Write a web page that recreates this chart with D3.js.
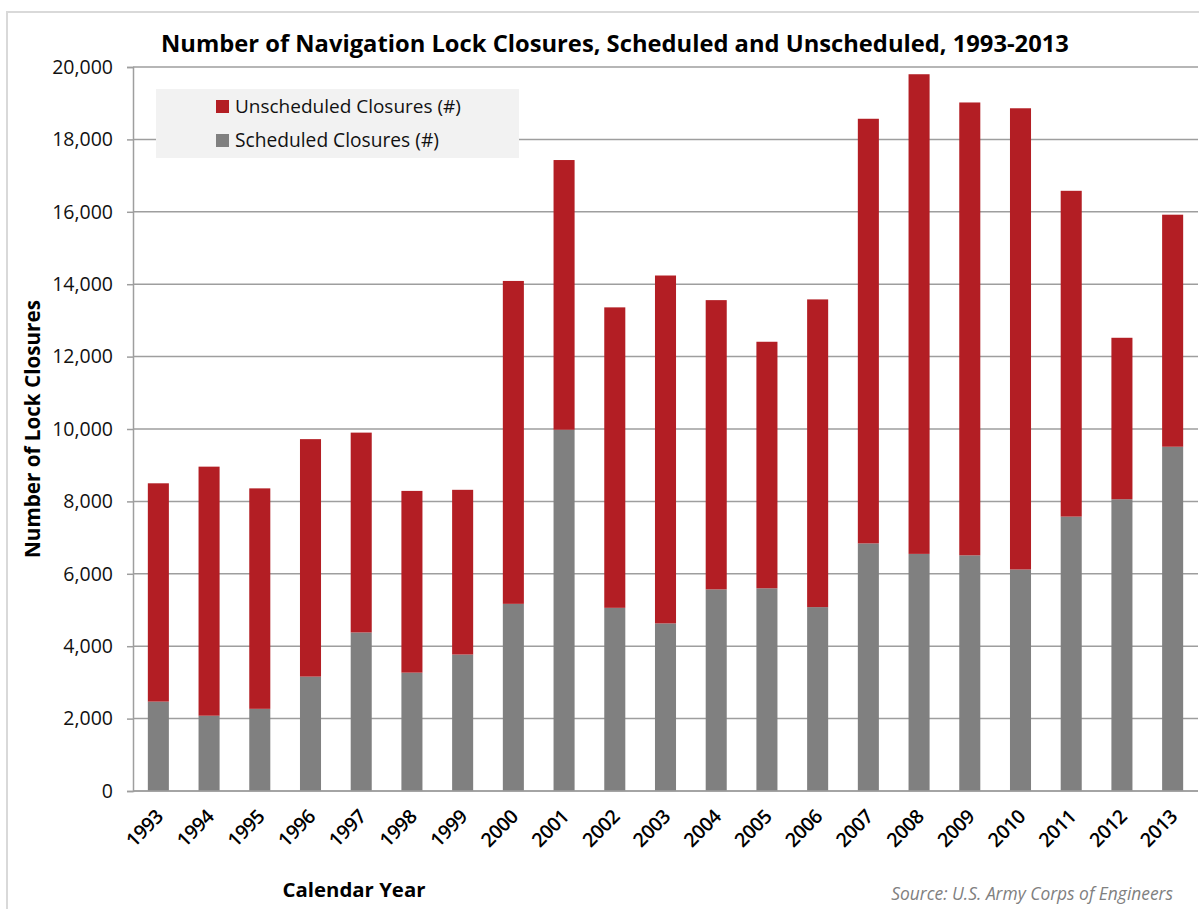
<!DOCTYPE html>
<html>
<head>
<meta charset="utf-8">
<script src="https://cdn.jsdelivr.net/npm/d3@7"></script>
<style>
  body { margin: 0; background: #fff; }
  svg { display: block; font-family: "Open Sans", sans-serif; }
</style>
</head>
<body>
<svg width="1199" height="909"></svg>
<script>
const years = ["1993", "1994", "1995", "1996", "1997", "1998", "1999", "2000", "2001", "2002", "2003",
               "2004", "2005", "2006", "2007", "2008", "2009", "2010", "2011", "2012", "2013"];
const scheduled = [2470, 2080, 2270, 3160, 4380, 3270, 3770, 5170, 9980, 5060, 4630,
                   5570, 5600, 5080, 6840, 6550, 6510, 6120, 7580, 8060, 9510];
const unscheduled = [6030, 6880, 6090, 6560, 5520, 5020, 4550, 8920, 7450, 8300, 9610,
                     7990, 6810, 8500, 11730, 13250, 12510, 12740, 9000, 4460, 6410];
const yTicks = [0, 2000, 4000, 6000, 8000, 10000, 12000, 14000, 16000, 18000, 20000];
const seriesNames = ["Scheduled Closures (#)", "Unscheduled Closures (#)"];
const seriesColors = ["#808080", "#b31e24"];

const svg = d3.select("svg");
const margin = { top: 67, right: 1, bottom: 118, left: 133 };
const width = +svg.attr("width") - margin.left - margin.right;
const height = +svg.attr("height") - margin.top - margin.bottom;

// shrink or grow a text's font size so it spans a given width
function fitText(sel, target) {
  const node = sel.node();
  const size = parseFloat(sel.attr("font-size"));
  const len = node.getComputedTextLength();
  sel.attr("font-size", (size * target / len).toFixed(2));
}

// chart frame
svg.append("rect")
  .attr("x", 7).attr("y", 12)
  .attr("width", 1210).attr("height", 920)
  .attr("fill", "none")
  .attr("stroke", "#d9d9d9")
  .attr("stroke-width", 2);

const table = years.map((y, i) => ({ year: y, scheduled: scheduled[i], unscheduled: unscheduled[i] }));
const stacked = d3.stack().keys(["scheduled", "unscheduled"])(table);

//define scales
const xScale = d3.scaleBand()
  .domain(years)
  .range([0, width])
  .paddingInner(0.585)
  .paddingOuter(0.2925);

const yScale = d3.scaleLinear()
  .domain([0, 20000])
  .range([height, 0]);

const g = svg.append("g")
  .attr("transform", "translate(" + margin.left + "," + margin.top + ")");

// gridlines
g.append("g")
  .selectAll("line")
  .data(yTicks)
  .enter()
  .append("line")
  .attr("x1", 0)
  .attr("x2", width)
  .attr("y1", d => yScale(d))
  .attr("y2", d => yScale(d))
  .attr("stroke", "#9e9e9e")
  .attr("stroke-width", 1.5);

//y-axis
const yAxis = g.append("g")
  .call(d3.axisLeft(yScale).tickValues(yTicks).tickFormat(d3.format(",")).tickSize(6).tickPadding(14));
yAxis.select(".domain").attr("stroke", "#9e9e9e").attr("stroke-width", 1.5);
yAxis.selectAll(".tick line").attr("stroke", "#9e9e9e").attr("stroke-width", 1.5);
yAxis.selectAll("text")
  .attr("font-family", "Open Sans")
  .attr("font-size", "19.5px")
  .attr("fill", "#111");

// legend
const legend = g.append("g").attr("transform", "translate(23,22)");
legend.append("rect")
  .attr("width", 363)
  .attr("height", 69)
  .attr("fill", "#f2f2f2");
const legendRows = [1, 0];
legendRows.forEach((s, i) => {
  legend.append("rect")
    .attr("x", 60).attr("y", 11 + i * 34)
    .attr("width", 13).attr("height", 13)
    .attr("fill", seriesColors[s]);
  const t = legend.append("text")
    .attr("x", 79).attr("y", 24 + i * 34)
    .attr("font-size", 18)
    .attr("fill", "#111")
    .text(seriesNames[s]);
  fitText(t, s === 1 ? 226 : 204);
});

// bars
g.selectAll(".series")
  .data(stacked)
  .enter()
  .append("g")
  .attr("class", "series")
  .attr("fill", (d, i) => seriesColors[i])
  .selectAll("rect")
  .data(d => d)
  .enter()
  .append("rect")
  .attr("x", d => xScale(d.data.year))
  .attr("y", d => yScale(d[1]))
  .attr("width", xScale.bandwidth())
  .attr("height", d => yScale(d[0]) - yScale(d[1]));

// baseline
g.append("line")
  .attr("x1", 0).attr("x2", width)
  .attr("y1", height).attr("y2", height)
  .attr("stroke", "#9e9e9e")
  .attr("stroke-width", 1.5);

//x-axis labels
g.append("g")
  .selectAll("text")
  .data(years)
  .enter()
  .append("text")
  .attr("transform", d => "translate(" + (xScale(d) + xScale.bandwidth() / 2 + 6) + "," + (height + 27) + ") rotate(-45)")
  .attr("text-anchor", "end")
  .attr("font-size", "19.5px")
  .attr("font-weight", 600)
  .attr("letter-spacing", "-0.5px")
  .attr("fill", "#000")
  .text(d => d);

// title
const title = svg.append("text")
  .attr("x", 615)
  .attr("y", 52)
  .attr("text-anchor", "middle")
  .attr("font-size", 22)
  .attr("font-weight", 700)
  .attr("fill", "#000")
  .text("Number of Navigation Lock Closures, Scheduled and Unscheduled, 1993-2013");
fitText(title, 908);

// axis titles
const yTitle = svg.append("text")
  .attr("transform", "translate(40,429) rotate(-90)")
  .attr("text-anchor", "middle")
  .attr("font-size", 19)
  .attr("font-weight", 700)
  .attr("fill", "#000")
  .text("Number of Lock Closures");
fitText(yTitle, 258);

const xTitle = svg.append("text")
  .attr("x", 354)
  .attr("y", 897)
  .attr("text-anchor", "middle")
  .attr("font-size", 19)
  .attr("font-weight", 700)
  .attr("fill", "#000")
  .text("Calendar Year");
fitText(xTitle, 143);

const source = svg.append("text")
  .attr("x", 1173)
  .attr("y", 900)
  .attr("text-anchor", "end")
  .attr("font-size", 15)
  .attr("font-style", "italic")
  .attr("fill", "#808080")
  .text("Source: U.S. Army Corps of Engineers");
fitText(source, 282);
</script>
</body>
</html>
